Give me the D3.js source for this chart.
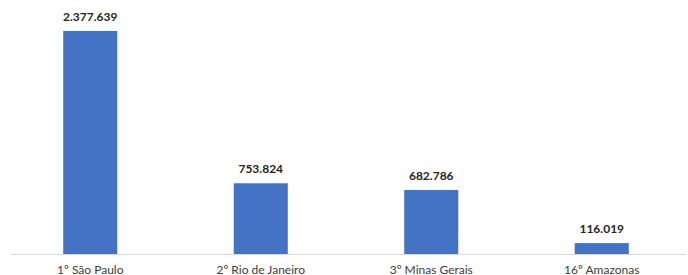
<!DOCTYPE html>
<html>
<head>
<meta charset="utf-8">
<script src="https://cdn.jsdelivr.net/npm/d3@7"></script>
<style>
html,body{margin:0;padding:0;background:#fff;}
svg{display:block;}
</style>
</head>
<body>
<svg id="chart" width="688" height="275"></svg>
<script>
const categories = ["1º São Paulo", "2º Rio de Janeiro", "3º Minas Gerais", "16º Amazonas"];
const values = [2377639, 753824, 682786, 116019];
const valueLabels = ["2.377.639", "753.824", "682.786", "116.019"];

const W = 688, H = 275;
const baseY = 254;
const svg = d3.select("#chart");

const x = d3.scaleBand().domain(categories).range([5, 687]).paddingInner(0.683).paddingOuter(0.3415);
const y = d3.scaleLinear().domain([0, 2500000]).range([baseY, 19.5]);

const data = categories.map((c, i) => ({c, v: values[i], l: valueLabels[i]}));

svg.append("line")
  .attr("x1", 11).attr("x2", 686)
  .attr("y1", baseY + 0.5).attr("y2", baseY + 0.5)
  .attr("stroke", "#d9d9d9").attr("stroke-width", 1);

svg.selectAll("rect.bar").data(data).enter().append("rect")
  .attr("class", "bar")
  .attr("x", d => x(d.c))
  .attr("width", x.bandwidth())
  .attr("y", d => y(d.v))
  .attr("height", d => baseY - y(d.v))
  .attr("fill", "#4472c4");

svg.selectAll("text.val").data(data).enter().append("text")
  .attr("class", "val")
  .attr("x", d => x(d.c) + x.bandwidth() / 2)
  .attr("y", d => y(d.v) - 10)
  .attr("text-anchor", "middle")
  .attr("font-family", "Lato, 'Liberation Sans', sans-serif")
  .attr("font-weight", "bold")
  .attr("font-size", "12px")
  .attr("fill", "#262626")
  .text(d => d.l);

const axis = d3.axisBottom(x).tickSize(0).tickPadding(0);
const g = svg.append("g").attr("transform", `translate(0,${baseY})`).call(axis);
g.select(".domain").remove();
g.selectAll("text")
  .attr("y", 20)
  .attr("dy", 0)
  .attr("font-family", "Lato, 'Liberation Sans', sans-serif")
  .attr("font-size", "12px")
  .attr("fill", "#404040");
</script>
</body>
</html>
